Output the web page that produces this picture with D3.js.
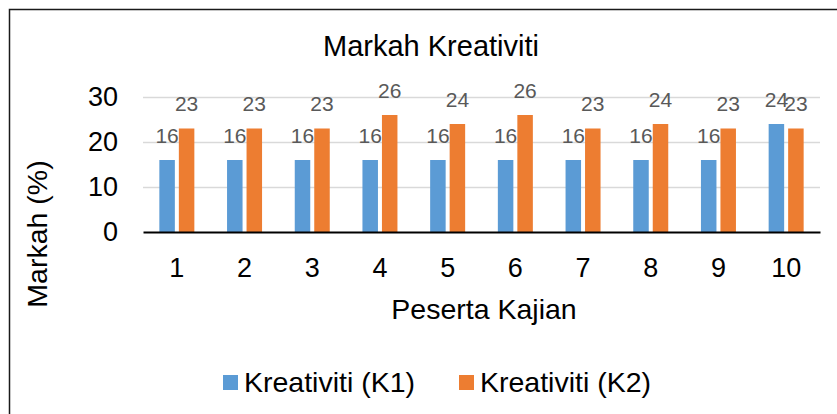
<!DOCTYPE html>
<html>
<head>
<meta charset="utf-8">
<script src="https://cdn.jsdelivr.net/npm/d3@7"></script>
<style>
  body{margin:0;background:#fff;}
  svg{display:block;font-family:"Liberation Sans",Arial,sans-serif;}
</style>
</head>
<body>
<svg width="837" height="414"></svg>
<script>
// data
var peserta = ["1","2","3","4","5","6","7","8","9","10"];
var k1 = [16,16,16,16,16,16,16,16,16,24];
var k2 = [23,23,23,26,24,26,23,24,23,23];
var yTicks = [0,10,20,30];
var seriesNames = ["Kreativiti (K1)","Kreativiti (K2)"];
var seriesColors = ["#5B9BD5","#ED7D31"];

var svg = d3.select("svg");

// chart outline
svg.append("rect")
  .attr("x",9.5).attr("y",9.5)
  .attr("width",840).attr("height",420)
  .attr("fill","none")
  .attr("stroke","#1a1a1a")
  .attr("stroke-width",1.5);

var x = d3.scaleBand().domain(peserta).range([143,820]).paddingInner(0.483).paddingOuter(0.2415);
var x1 = d3.scaleBand().domain([0,1]).range([0,x.bandwidth()]).paddingInner(0.205);
var y = d3.scaleLinear().domain([0,30]).range([232,97]);

// gridlines
svg.append("g")
  .attr("transform","translate(143,0)")
  .call(d3.axisLeft(y).tickValues(yTicks.filter(function(d){return d>0;})).tickSize(-677).tickFormat(""))
  .call(function(g){
    g.select(".domain").remove();
    g.selectAll("line").attr("stroke","#D9D9D9").attr("stroke-width",1.5);
  });

// y tick labels
svg.append("g")
  .attr("transform","translate(118,0)")
  .call(d3.axisLeft(y).tickValues(yTicks).tickSize(0).tickPadding(0))
  .call(function(g){
    g.select(".domain").remove();
    g.selectAll("text").attr("font-size",27).attr("fill","#000").attr("font-family","Liberation Sans, Arial, sans-serif");
  });

// bars
var rows = peserta.map(function(p,i){ return {p:p, vals:[k1[i],k2[i]]}; });
var groups = svg.append("g").selectAll("g")
  .data(rows)
  .enter().append("g")
  .attr("transform",function(d){ return "translate("+x(d.p)+",0)"; });

groups.selectAll("rect")
  .data(function(d){ return d.vals.map(function(v,j){ return {v:v,j:j}; }); })
  .enter().append("rect")
  .attr("x",function(d){ return x1(d.j); })
  .attr("width",x1.bandwidth())
  .attr("y",function(d){ return y(d.v); })
  .attr("height",function(d){ return y(0)-y(d.v); })
  .attr("fill",function(d){ return seriesColors[d.j]; });

// data labels
groups.selectAll("text")
  .data(function(d){ return d.vals.map(function(v,j){ return {v:v,j:j}; }); })
  .enter().append("text")
  .attr("x",function(d){ return x1(d.j)+x1.bandwidth()/2; })
  .attr("y",function(d){ return y(d.v)-17.5; })
  .attr("text-anchor","middle")
  .attr("font-size",21)
  .attr("fill","#595959")
  .text(function(d){ return d.v; });

// baseline + x tick labels
svg.append("g")
  .attr("transform","translate(0,"+y(0)+")")
  .call(d3.axisBottom(x).tickSize(0).tickPadding(0))
  .call(function(g){
    g.select(".domain").attr("stroke","#000").attr("stroke-width",2);
    g.selectAll("text").attr("font-size",27).attr("fill","#000")
      .attr("font-family","Liberation Sans, Arial, sans-serif")
      .attr("dy",null).attr("y",45);
  });

// title
svg.append("text")
  .attr("x",431).attr("y",56)
  .attr("text-anchor","middle")
  .attr("font-size",29)
  .text("Markah Kreativiti");

// axis titles
svg.append("text")
  .attr("x",484).attr("y",319)
  .attr("text-anchor","middle")
  .attr("font-size",28.5)
  .text("Peserta Kajian");

svg.append("text")
  .attr("transform","translate(47,234) rotate(-90)")
  .attr("text-anchor","middle")
  .attr("font-size",28.5)
  .text("Markah (%)");

// legend
var legend = svg.append("g").selectAll("g")
  .data(seriesNames)
  .enter().append("g")
  .attr("transform",function(d,i){ return "translate("+[223,459][i]+",375)"; });
legend.append("rect")
  .attr("width",15).attr("height",15)
  .attr("fill",function(d,i){ return seriesColors[i]; });
legend.append("text")
  .attr("x",21).attr("y",17)
  .attr("font-size",28.5)
  .text(function(d){ return d; });
</script>
</body>
</html>
